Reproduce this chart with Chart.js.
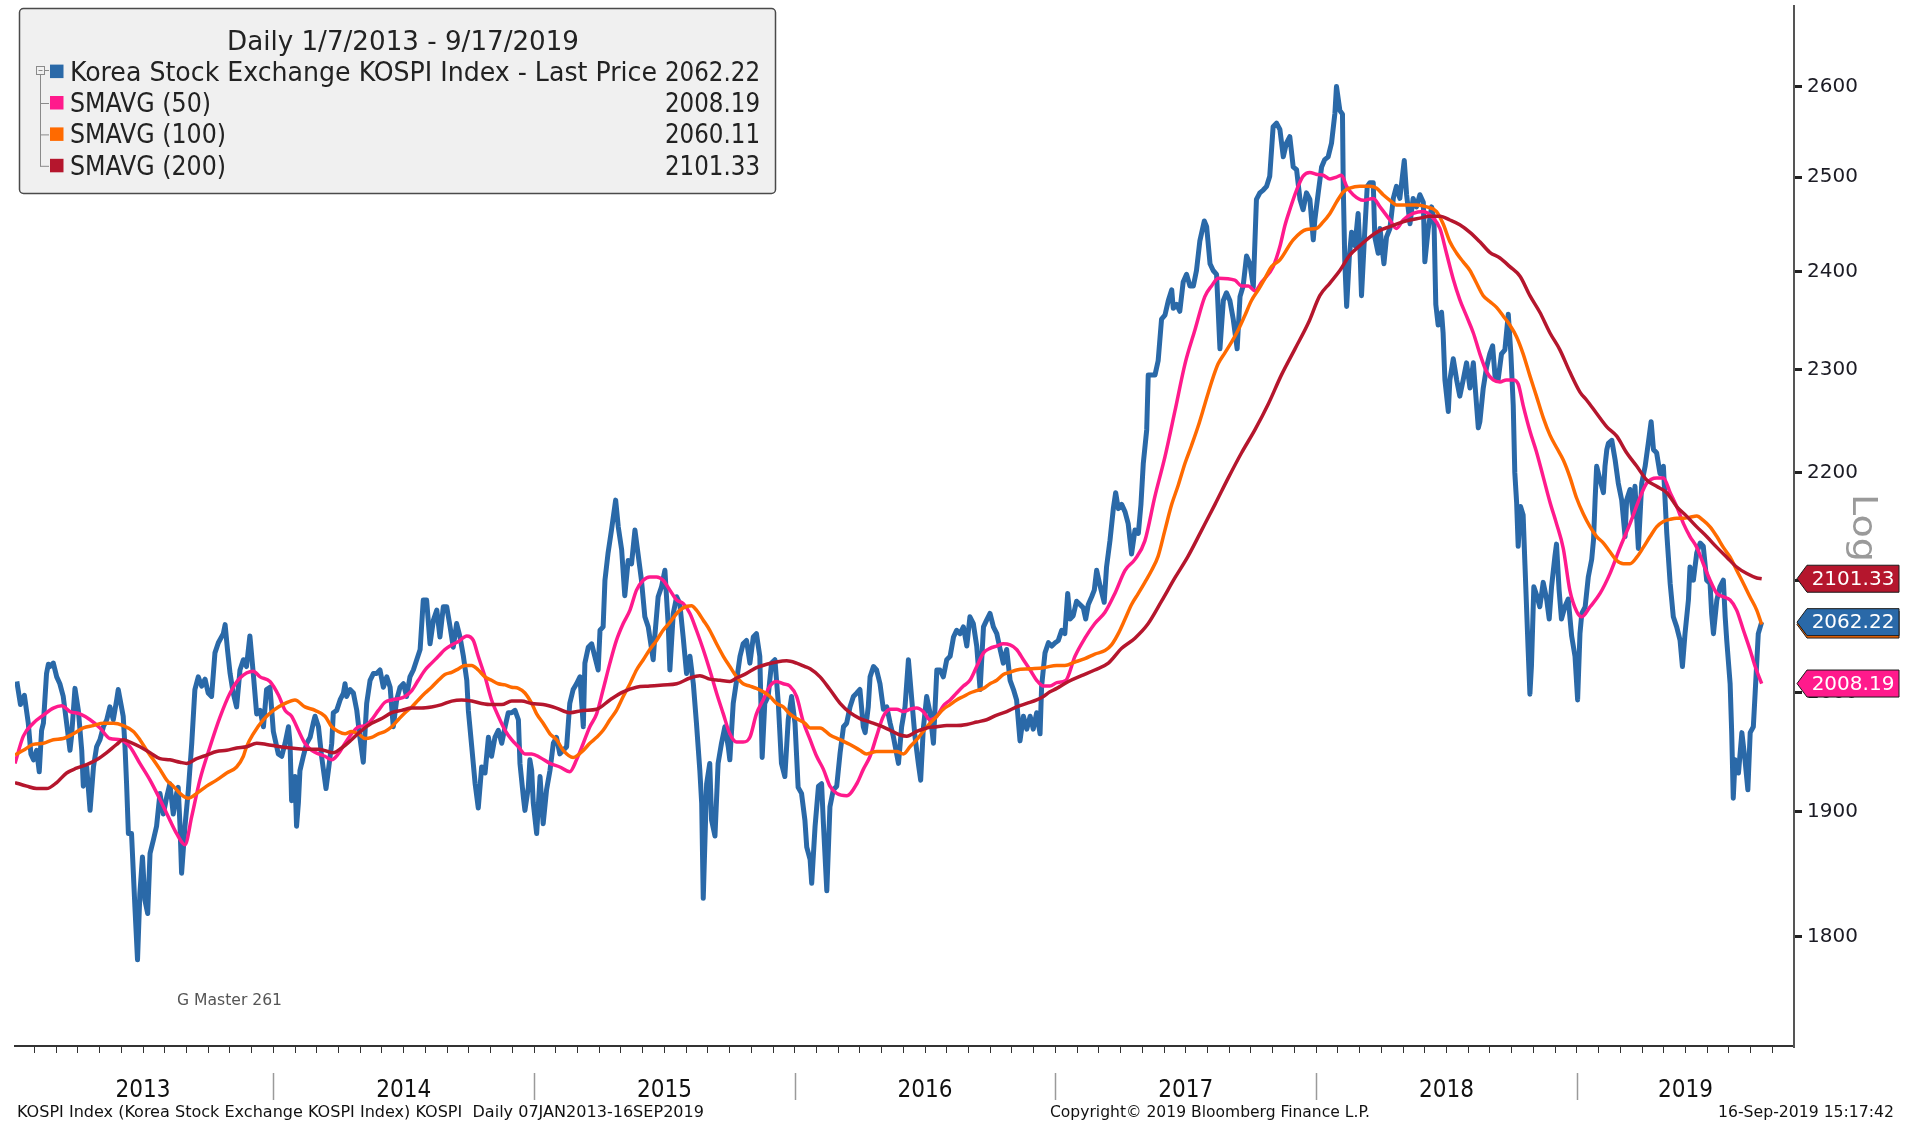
<!DOCTYPE html>
<html>
<head>
<meta charset="utf-8">
<script src="https://cdn.jsdelivr.net/npm/chart.js@4.4.0/dist/chart.umd.min.js"></script>
<style>
  html, body { margin: 0; padding: 0; background: #fff; }
  #wrap { width: 1914px; height: 1124px; position: relative; }
</style>
</head>
<body>
<div id="wrap"><canvas id="grafico"></canvas></div>
<script>
// KOSPI last price, [decimal year, value]
const price2013 = [[2013.016,2010],[2013.030,1990],[2013.045,1998],[2013.060,1974],[2013.070,1948],[2013.080,1943],[2013.092,1951],[2013.102,1933],[2013.111,1968],[2013.118,1974],[2013.130,2017],[2013.137,2025],[2013.143,2023],[2013.156,2026],[2013.169,2014],[2013.181,2008],[2013.194,1997],[2013.207,1974],[2013.220,1951],[2013.226,1963],[2013.239,2004],[2013.252,1985],[2013.265,1951],[2013.271,1921],[2013.284,1937],[2013.297,1901],[2013.310,1937],[2013.322,1954],[2013.335,1960],[2013.348,1971],[2013.361,1977],[2013.373,1988],[2013.386,1977],[2013.399,1994],[2013.405,2003],[2013.424,1980],[2013.431,1954],[2013.437,1923],[2013.444,1882],[2013.456,1882],[2013.469,1823],[2013.479,1782],[2013.488,1834],[2013.498,1863],[2013.507,1829],[2013.518,1818],[2013.527,1866],[2013.540,1877],[2013.552,1888],[2013.565,1915],[2013.578,1898],[2013.591,1912],[2013.603,1923],[2013.616,1898],[2013.629,1915],[2013.635,1920],[2013.642,1888],[2013.648,1850],[2013.661,1888],[2013.674,1918],[2013.687,1957],[2013.699,2003],[2013.712,2014],[2013.725,2006],[2013.738,2012],[2013.750,2000],[2013.763,1997],[2013.776,2035],[2013.789,2044],[2013.808,2052],[2013.815,2060],[2013.824,2038],[2013.834,2017],[2013.846,2000],[2013.859,1988],[2013.872,2020],[2013.885,2029],[2013.897,2023],[2013.910,2050],[2013.923,2017],[2013.936,1982],[2013.949,1985],[2013.962,1971],[2013.974,2003],[2013.987,2005],[2014.000,1967]];
const price2014 = [[2014.019,1948],[2014.032,1946],[2014.045,1957],[2014.058,1971],[2014.064,1957],[2014.070,1909],[2014.083,1929],[2014.089,1888],[2014.096,1907],[2014.102,1934],[2014.115,1946],[2014.128,1957],[2014.141,1962],[2014.153,1974],[2014.160,1980],[2014.173,1971],[2014.185,1946],[2014.202,1919],[2014.211,1934],[2014.224,1957],[2014.230,1983],[2014.243,1985],[2014.256,1994],[2014.269,2000],[2014.275,2008],[2014.281,1997],[2014.294,2003],[2014.307,2000],[2014.320,1985],[2014.332,1962],[2014.345,1941],[2014.358,1991],[2014.371,2011],[2014.384,2017],[2014.396,2017],[2014.409,2020],[2014.422,2005],[2014.435,2014],[2014.448,2005],[2014.460,1971],[2014.473,1994],[2014.486,2005],[2014.499,2008],[2014.511,1997],[2014.524,2014],[2014.537,2020],[2014.550,2029],[2014.563,2038],[2014.575,2082],[2014.588,2082],[2014.601,2043],[2014.614,2064],[2014.627,2073],[2014.639,2049],[2014.652,2076],[2014.665,2076],[2014.678,2058],[2014.690,2040],[2014.703,2061],[2014.716,2049],[2014.729,2032],[2014.742,2011],[2014.748,1985],[2014.761,1954],[2014.774,1923],[2014.786,1903],[2014.799,1937],[2014.812,1932],[2014.825,1962],[2014.837,1946],[2014.850,1962],[2014.863,1968],[2014.876,1957],[2014.889,1971],[2014.901,1983],[2014.914,1983],[2014.927,1985],[2014.940,1977],[2014.946,1940],[2014.959,1912],[2014.965,1901],[2014.978,1920],[2014.984,1943],[2014.991,1934],[2014.997,1907]];
const price2015 = [[2015.010,1882],[2015.023,1929],[2015.035,1890],[2015.048,1918],[2015.061,1934],[2015.074,1957],[2015.086,1962],[2015.099,1948],[2015.112,1951],[2015.125,1954],[2015.137,1991],[2015.150,2003],[2015.163,2008],[2015.176,2014],[2015.189,1971],[2015.195,2026],[2015.208,2040],[2015.221,2043],[2015.233,2032],[2015.246,2020],[2015.253,2055],[2015.265,2058],[2015.272,2100],[2015.284,2125],[2015.297,2146],[2015.313,2174],[2015.323,2149],[2015.336,2128],[2015.348,2086],[2015.361,2118],[2015.374,2115],[2015.387,2146],[2015.400,2122],[2015.412,2100],[2015.425,2067],[2015.438,2058],[2015.457,2029],[2015.463,2049],[2015.476,2085],[2015.489,2094],[2015.502,2109],[2015.515,2058],[2015.521,2020],[2015.534,2070],[2015.547,2085],[2015.559,2079],[2015.572,2049],[2015.585,2017],[2015.598,2032],[2015.611,2008],[2015.623,1974],[2015.636,1934],[2015.643,1907],[2015.649,1830],[2015.662,1923],[2015.674,1940],[2015.681,1893],[2015.694,1880],[2015.706,1940],[2015.719,1957],[2015.732,1971],[2015.745,1954],[2015.751,1943],[2015.764,1991],[2015.777,2011],[2015.790,2032],[2015.802,2043],[2015.815,2046],[2015.828,2026],[2015.841,2049],[2015.853,2052],[2015.866,2032],[2015.875,1945],[2015.885,1991],[2015.898,1997],[2015.911,2026],[2015.924,2029],[2015.937,1991],[2015.949,1940],[2015.962,1929],[2015.975,1977],[2015.988,1997]];
const price2016 = [[2016.001,1974],[2016.013,1920],[2016.026,1915],[2016.039,1893],[2016.046,1871],[2016.059,1861],[2016.065,1842],[2016.078,1888],[2016.091,1921],[2016.103,1923],[2016.110,1890],[2016.123,1836],[2016.135,1904],[2016.148,1918],[2016.161,1921],[2016.174,1949],[2016.187,1971],[2016.199,1974],[2016.212,1988],[2016.225,1997],[2016.238,2000],[2016.250,2003],[2016.263,1971],[2016.270,1966],[2016.282,1988],[2016.289,2014],[2016.302,2023],[2016.314,2020],[2016.327,2008],[2016.340,1986],[2016.353,1988],[2016.366,1974],[2016.378,1963],[2016.398,1940],[2016.410,1971],[2016.423,1988],[2016.436,2029],[2016.449,1994],[2016.461,1963],[2016.474,1940],[2016.483,1926],[2016.493,1969],[2016.506,1997],[2016.519,1983],[2016.532,1957],[2016.545,2020],[2016.557,2020],[2016.570,2014],[2016.583,2029],[2016.596,2032],[2016.609,2049],[2016.621,2055],[2016.634,2052],[2016.647,2058],[2016.660,2041],[2016.672,2067],[2016.685,2061],[2016.698,2041],[2016.711,2003],[2016.724,2058],[2016.736,2064],[2016.749,2070],[2016.762,2058],[2016.775,2052],[2016.788,2038],[2016.800,2026],[2016.813,2038],[2016.826,2011],[2016.839,2003],[2016.851,1994],[2016.864,1959],[2016.877,1980],[2016.890,1969],[2016.903,1980],[2016.915,1969],[2016.928,1983],[2016.941,1965],[2016.947,2006],[2016.960,2035],[2016.973,2044],[2016.986,2041],[2016.999,2044]];
const price2017 = [[2017.011,2046],[2017.024,2055],[2017.036,2052],[2017.047,2088],[2017.056,2065],[2017.068,2068],[2017.081,2081],[2017.094,2078],[2017.107,2075],[2017.116,2065],[2017.126,2078],[2017.139,2085],[2017.149,2091],[2017.158,2109],[2017.171,2095],[2017.187,2080],[2017.196,2112],[2017.209,2136],[2017.222,2166],[2017.231,2181],[2017.241,2166],[2017.254,2170],[2017.267,2163],[2017.279,2152],[2017.292,2124],[2017.305,2146],[2017.318,2143],[2017.328,2170],[2017.337,2209],[2017.350,2241],[2017.356,2295],[2017.369,2295],[2017.382,2295],[2017.394,2309],[2017.407,2351],[2017.420,2355],[2017.433,2370],[2017.446,2381],[2017.452,2362],[2017.465,2366],[2017.477,2359],[2017.490,2389],[2017.503,2397],[2017.516,2385],[2017.529,2385],[2017.541,2401],[2017.554,2432],[2017.571,2453],[2017.580,2447],[2017.593,2408],[2017.605,2401],[2017.618,2397],[2017.631,2321],[2017.644,2370],[2017.656,2378],[2017.669,2370],[2017.682,2351],[2017.697,2321],[2017.708,2374],[2017.720,2385],[2017.733,2416],[2017.746,2408],[2017.759,2384],[2017.771,2476],[2017.784,2483],[2017.797,2486],[2017.810,2490],[2017.822,2501],[2017.835,2555],[2017.848,2559],[2017.861,2552],[2017.874,2522],[2017.886,2537],[2017.899,2544],[2017.912,2511],[2017.925,2508],[2017.938,2476],[2017.950,2465],[2017.963,2483],[2017.976,2476],[2017.989,2433],[2017.995,2454]];
const price2018 = [[2018.008,2483],[2018.021,2511],[2018.033,2519],[2018.046,2522],[2018.059,2537],[2018.072,2570],[2018.078,2600],[2018.091,2573],[2018.101,2569],[2018.104,2490],[2018.110,2410],[2018.117,2364],[2018.127,2414],[2018.136,2441],[2018.149,2427],[2018.161,2461],[2018.168,2423],[2018.174,2375],[2018.187,2445],[2018.196,2490],[2018.206,2494],[2018.219,2494],[2018.225,2436],[2018.238,2419],[2018.245,2445],[2018.260,2408],[2018.270,2436],[2018.283,2445],[2018.296,2477],[2018.308,2490],[2018.321,2477],[2018.338,2518],[2018.347,2481],[2018.360,2450],[2018.372,2477],[2018.385,2468],[2018.398,2481],[2018.411,2473],[2018.417,2410],[2018.430,2445],[2018.443,2468],[2018.452,2454],[2018.459,2366],[2018.468,2345],[2018.481,2358],[2018.487,2337],[2018.494,2290],[2018.507,2259],[2018.513,2290],[2018.526,2311],[2018.539,2290],[2018.551,2274],[2018.564,2290],[2018.577,2307],[2018.590,2282],[2018.603,2307],[2018.622,2243],[2018.628,2249],[2018.641,2282],[2018.654,2303],[2018.666,2316],[2018.677,2324],[2018.686,2294],[2018.698,2290],[2018.711,2316],[2018.724,2320],[2018.737,2356],[2018.747,2316],[2018.756,2265],[2018.762,2200],[2018.769,2172],[2018.775,2131],[2018.784,2168],[2018.794,2160],[2018.801,2114],[2018.807,2076],[2018.813,2039],[2018.820,1999],[2018.826,2024],[2018.835,2094],[2018.845,2087],[2018.858,2076],[2018.871,2098],[2018.884,2083],[2018.894,2065],[2018.903,2094],[2018.916,2122],[2018.922,2133],[2018.932,2091],[2018.941,2065],[2018.954,2076],[2018.967,2083],[2018.980,2050],[2018.993,2032]];
const price2019 = [[2019.003,1994],[2019.012,2052],[2019.019,2070],[2019.032,2076],[2019.044,2103],[2019.057,2119],[2019.064,2137],[2019.070,2174],[2019.076,2206],[2019.089,2193],[2019.102,2181],[2019.108,2206],[2019.115,2222],[2019.121,2228],[2019.134,2231],[2019.147,2212],[2019.159,2190],[2019.172,2174],[2019.185,2140],[2019.191,2174],[2019.204,2184],[2019.217,2159],[2019.223,2187],[2019.236,2129],[2019.249,2190],[2019.262,2206],[2019.274,2228],[2019.285,2249],[2019.294,2222],[2019.306,2219],[2019.319,2199],[2019.332,2206],[2019.345,2143],[2019.358,2097],[2019.364,2082],[2019.370,2067],[2019.383,2058],[2019.396,2046],[2019.405,2023],[2019.415,2052],[2019.428,2082],[2019.434,2112],[2019.447,2100],[2019.460,2125],[2019.473,2134],[2019.485,2131],[2019.498,2100],[2019.511,2097],[2019.517,2070],[2019.524,2052],[2019.537,2082],[2019.549,2094],[2019.562,2100],[2019.569,2067],[2019.575,2046],[2019.588,2008],[2019.594,1966],[2019.600,1911],[2019.607,1943],[2019.620,1932],[2019.633,1966],[2019.645,1943],[2019.656,1918],[2019.665,1966],[2019.677,1971],[2019.684,2000],[2019.696,2052],[2019.709,2062.22]];

// moving averages, [decimal year, value]
const sma50 = [[2013.009,1940],[2013.041,1963],[2013.079,1974],[2013.118,1981],[2013.156,1987],[2013.188,1989],[2013.220,1984],[2013.258,1982],[2013.297,1977],[2013.335,1970],[2013.373,1961],[2013.412,1960],[2013.450,1954],[2013.488,1940],[2013.527,1926],[2013.565,1910],[2013.603,1893],[2013.629,1882],[2013.661,1873],[2013.687,1896],[2013.718,1926],[2013.757,1954],[2013.795,1979],[2013.834,2000],[2013.872,2013],[2013.923,2019],[2013.949,2014],[2013.987,2010],[2014.020,1998],[2014.045,1985],[2014.070,1980],[2014.096,1968],[2014.121,1957],[2014.147,1951],[2014.173,1948],[2014.198,1946],[2014.224,1943],[2014.249,1948],[2014.275,1957],[2014.300,1965],[2014.326,1971],[2014.352,1972],[2014.377,1977],[2014.403,1985],[2014.428,1992],[2014.454,1994],[2014.479,1995],[2014.505,1997],[2014.531,2002],[2014.556,2011],[2014.582,2020],[2014.607,2026],[2014.633,2032],[2014.658,2038],[2014.684,2042],[2014.710,2045],[2014.742,2050],[2014.767,2046],[2014.786,2032],[2014.812,2014],[2014.837,1994],[2014.863,1980],[2014.889,1968],[2014.914,1960],[2014.940,1954],[2014.965,1948],[2014.991,1948],[2015.023,1945],[2015.061,1940],[2015.099,1937],[2015.137,1933],[2015.163,1943],[2015.189,1957],[2015.214,1971],[2015.240,1982],[2015.265,2003],[2015.291,2026],[2015.316,2046],[2015.342,2061],[2015.368,2073],[2015.393,2091],[2015.419,2100],[2015.444,2103],[2015.470,2103],[2015.495,2100],[2015.521,2091],[2015.547,2082],[2015.572,2079],[2015.598,2070],[2015.623,2055],[2015.649,2038],[2015.674,2020],[2015.700,2000],[2015.726,1982],[2015.751,1965],[2015.777,1958],[2015.802,1958],[2015.828,1962],[2015.853,1982],[2015.879,1994],[2015.905,2006],[2015.930,2010],[2015.956,2008],[2015.981,2006],[2016.007,1997],[2016.033,1975],[2016.059,1960],[2016.084,1946],[2016.110,1935],[2016.135,1921],[2016.161,1915],[2016.199,1913],[2016.238,1923],[2016.263,1935],[2016.289,1946],[2016.314,1963],[2016.340,1980],[2016.366,1986],[2016.391,1986],[2016.417,1984],[2016.442,1986],[2016.468,1987],[2016.493,1984],[2016.519,1977],[2016.545,1980],[2016.570,1989],[2016.596,1994],[2016.621,2000],[2016.647,2006],[2016.672,2011],[2016.698,2023],[2016.724,2035],[2016.749,2039],[2016.775,2041],[2016.800,2043],[2016.826,2042],[2016.851,2038],[2016.877,2029],[2016.903,2020],[2016.928,2011],[2016.954,2006],[2016.979,2006],[2017.005,2009],[2017.040,2011],[2017.075,2032],[2017.113,2048],[2017.151,2061],[2017.190,2071],[2017.228,2088],[2017.267,2109],[2017.305,2119],[2017.343,2136],[2017.382,2178],[2017.420,2215],[2017.458,2259],[2017.497,2306],[2017.535,2340],[2017.573,2374],[2017.599,2385],[2017.625,2393],[2017.688,2391],[2017.714,2385],[2017.740,2385],[2017.765,2380],[2017.791,2389],[2017.835,2405],[2017.861,2426],[2017.880,2448],[2017.899,2465],[2017.925,2486],[2017.950,2501],[2017.976,2505],[2018.000,2503],[2018.027,2502],[2018.053,2498],[2018.078,2500],[2018.097,2502],[2018.117,2490],[2018.142,2481],[2018.181,2475],[2018.219,2477],[2018.245,2468],[2018.283,2454],[2018.308,2445],[2018.334,2454],[2018.372,2461],[2018.411,2463],[2018.449,2456],[2018.475,2445],[2018.500,2419],[2018.526,2392],[2018.551,2371],[2018.577,2354],[2018.603,2337],[2018.628,2316],[2018.654,2298],[2018.679,2290],[2018.705,2288],[2018.730,2290],[2018.756,2290],[2018.775,2286],[2018.794,2265],[2018.820,2240],[2018.845,2220],[2018.871,2196],[2018.897,2172],[2018.922,2152],[2018.948,2129],[2018.973,2091],[2018.999,2072],[2019.019,2067],[2019.051,2076],[2019.089,2088],[2019.127,2106],[2019.166,2130],[2019.204,2152],[2019.243,2177],[2019.268,2190],[2019.306,2195],[2019.332,2195],[2019.358,2181],[2019.383,2168],[2019.409,2152],[2019.434,2140],[2019.460,2130],[2019.485,2115],[2019.511,2100],[2019.537,2088],[2019.562,2085],[2019.588,2082],[2019.613,2073],[2019.639,2055],[2019.664,2038],[2019.684,2023],[2019.709,2008.19]];
const sma100 = [[2013.009,1947],[2013.041,1951],[2013.079,1956],[2013.118,1957],[2013.156,1960],[2013.194,1961],[2013.233,1965],[2013.271,1970],[2013.309,1972],[2013.348,1974],[2013.386,1974],[2013.424,1972],[2013.463,1967],[2013.488,1960],[2013.514,1951],[2013.540,1943],[2013.565,1935],[2013.591,1926],[2013.616,1921],[2013.642,1915],[2013.674,1911],[2013.706,1915],[2013.744,1921],[2013.782,1926],[2013.821,1932],[2013.859,1937],[2013.885,1946],[2013.897,1954],[2013.923,1965],[2013.962,1977],[2014.000,1985],[2014.045,1991],[2014.083,1994],[2014.121,1988],[2014.160,1985],[2014.198,1980],[2014.224,1971],[2014.249,1967],[2014.275,1965],[2014.300,1967],[2014.326,1965],[2014.352,1961],[2014.377,1962],[2014.403,1965],[2014.428,1967],[2014.454,1971],[2014.479,1977],[2014.505,1983],[2014.531,1988],[2014.556,1994],[2014.582,2000],[2014.607,2005],[2014.633,2011],[2014.658,2016],[2014.684,2018],[2014.710,2021],[2014.735,2024],[2014.761,2024],[2014.786,2020],[2014.812,2014],[2014.837,2011],[2014.863,2008],[2014.889,2007],[2014.914,2005],[2014.940,2004],[2014.965,2000],[2014.991,1991],[2015.010,1982],[2015.035,1974],[2015.061,1965],[2015.086,1960],[2015.112,1951],[2015.150,1945],[2015.189,1951],[2015.214,1957],[2015.240,1962],[2015.265,1968],[2015.291,1977],[2015.316,1985],[2015.342,1997],[2015.368,2008],[2015.393,2020],[2015.419,2029],[2015.444,2038],[2015.470,2046],[2015.495,2055],[2015.521,2062],[2015.547,2070],[2015.572,2075],[2015.604,2077],[2015.623,2073],[2015.649,2064],[2015.674,2055],[2015.700,2043],[2015.726,2032],[2015.751,2023],[2015.777,2014],[2015.802,2008],[2015.828,2006],[2015.853,2004],[2015.879,2001],[2015.905,1997],[2015.930,1991],[2015.956,1988],[2015.981,1982],[2016.007,1978],[2016.039,1974],[2016.059,1970],[2016.097,1970],[2016.135,1964],[2016.174,1960],[2016.212,1956],[2016.250,1951],[2016.276,1948],[2016.314,1950],[2016.353,1950],[2016.391,1950],[2016.417,1948],[2016.442,1954],[2016.468,1960],[2016.493,1967],[2016.519,1974],[2016.545,1980],[2016.570,1986],[2016.596,1990],[2016.621,1994],[2016.647,1997],[2016.672,2000],[2016.698,2002],[2016.724,2004],[2016.749,2008],[2016.775,2011],[2016.800,2016],[2016.826,2018],[2016.851,2020],[2016.903,2021],[2016.954,2022],[2017.005,2024],[2017.036,2024],[2017.075,2027],[2017.113,2030],[2017.151,2034],[2017.190,2037],[2017.215,2042],[2017.241,2052],[2017.267,2065],[2017.292,2078],[2017.318,2088],[2017.343,2098],[2017.369,2109],[2017.394,2122],[2017.420,2146],[2017.446,2170],[2017.471,2188],[2017.497,2209],[2017.522,2226],[2017.548,2245],[2017.573,2266],[2017.599,2288],[2017.624,2306],[2017.650,2317],[2017.676,2328],[2017.701,2340],[2017.727,2355],[2017.752,2370],[2017.778,2381],[2017.804,2393],[2017.829,2405],[2017.861,2412],[2017.912,2433],[2017.963,2444],[2018.000,2445],[2018.027,2452],[2018.053,2461],[2018.078,2473],[2018.104,2484],[2018.129,2488],[2018.168,2490],[2018.206,2490],[2018.232,2488],[2018.257,2481],[2018.283,2475],[2018.308,2470],[2018.347,2470],[2018.385,2470],[2018.424,2468],[2018.462,2463],[2018.487,2450],[2018.513,2431],[2018.539,2419],[2018.564,2410],[2018.590,2401],[2018.615,2388],[2018.641,2375],[2018.666,2369],[2018.692,2363],[2018.718,2354],[2018.743,2345],[2018.769,2333],[2018.794,2316],[2018.820,2294],[2018.845,2274],[2018.871,2253],[2018.897,2236],[2018.922,2224],[2018.948,2212],[2018.973,2196],[2018.999,2176],[2019.025,2161],[2019.051,2149],[2019.076,2140],[2019.102,2134],[2019.127,2126],[2019.153,2118],[2019.179,2115],[2019.204,2115],[2019.230,2121],[2019.255,2130],[2019.281,2140],[2019.306,2149],[2019.332,2154],[2019.358,2156],[2019.383,2157],[2019.409,2157],[2019.434,2158],[2019.460,2159],[2019.485,2155],[2019.511,2149],[2019.537,2140],[2019.562,2130],[2019.588,2121],[2019.613,2109],[2019.639,2097],[2019.664,2085],[2019.690,2073],[2019.709,2060.11]];
const sma200 = [[2013.009,1924],[2013.054,1921],[2013.092,1919],[2013.130,1919],[2013.169,1924],[2013.207,1932],[2013.245,1936],[2013.284,1939],[2013.322,1943],[2013.361,1949],[2013.399,1956],[2013.424,1960],[2013.450,1958],[2013.488,1954],[2013.527,1949],[2013.565,1944],[2013.603,1943],[2013.642,1941],[2013.667,1940],[2013.706,1944],[2013.744,1947],[2013.782,1950],[2013.821,1951],[2013.859,1953],[2013.897,1954],[2013.936,1957],[2013.974,1956],[2014.026,1954],[2014.070,1953],[2014.121,1952],[2014.173,1952],[2014.230,1949],[2014.262,1953],[2014.300,1960],[2014.339,1968],[2014.377,1974],[2014.416,1978],[2014.454,1983],[2014.492,1985],[2014.531,1987],[2014.569,1987],[2014.607,1988],[2014.646,1990],[2014.684,1993],[2014.722,1994],[2014.761,1993],[2014.799,1991],[2014.837,1990],[2014.876,1990],[2014.914,1993],[2014.952,1993],[2014.991,1991],[2015.035,1990],[2015.086,1987],[2015.137,1983],[2015.189,1985],[2015.240,1986],[2015.291,1994],[2015.342,2001],[2015.393,2005],[2015.444,2006],[2015.495,2007],[2015.547,2008],[2015.598,2013],[2015.636,2015],[2015.674,2012],[2015.713,2011],[2015.751,2010],[2015.777,2013],[2015.815,2017],[2015.853,2022],[2015.892,2025],[2015.930,2027],[2015.969,2028],[2016.007,2026],[2016.039,2023],[2016.059,2021],[2016.097,2014],[2016.135,2003],[2016.174,1991],[2016.212,1983],[2016.250,1978],[2016.289,1975],[2016.327,1972],[2016.366,1968],[2016.404,1964],[2016.430,1963],[2016.468,1967],[2016.506,1970],[2016.545,1971],[2016.583,1972],[2016.621,1972],[2016.660,1973],[2016.698,1975],[2016.736,1977],[2016.775,1981],[2016.813,1984],[2016.851,1988],[2016.890,1991],[2016.928,1994],[2016.954,1997],[2016.979,2001],[2017.005,2004],[2017.050,2010],[2017.100,2015],[2017.151,2020],[2017.203,2026],[2017.254,2039],[2017.305,2048],[2017.356,2061],[2017.407,2081],[2017.458,2102],[2017.509,2122],[2017.561,2146],[2017.612,2170],[2017.663,2195],[2017.714,2219],[2017.765,2241],[2017.816,2266],[2017.867,2295],[2017.919,2321],[2017.970,2347],[2018.014,2375],[2018.053,2388],[2018.091,2401],[2018.129,2417],[2018.168,2427],[2018.206,2436],[2018.245,2443],[2018.283,2447],[2018.321,2451],[2018.360,2454],[2018.398,2456],[2018.436,2458],[2018.475,2458],[2018.513,2454],[2018.551,2449],[2018.590,2441],[2018.628,2431],[2018.666,2420],[2018.705,2414],[2018.743,2405],[2018.782,2395],[2018.820,2375],[2018.858,2358],[2018.897,2337],[2018.935,2320],[2018.973,2298],[2019.012,2278],[2019.038,2270],[2019.076,2257],[2019.115,2244],[2019.153,2235],[2019.191,2219],[2019.230,2206],[2019.268,2193],[2019.306,2187],[2019.345,2181],[2019.383,2168],[2019.421,2159],[2019.460,2149],[2019.498,2140],[2019.537,2130],[2019.575,2121],[2019.613,2112],[2019.652,2106],[2019.690,2102],[2019.709,2101.33]];

const yTicks = [1800, 1900, 2000, 2100, 2200, 2300, 2400, 2500, 2600];
const yearLabels = ['2013', '2014', '2015', '2016', '2017', '2018', '2019'];
const legendTitle = 'Daily 1/7/2013 - 9/17/2019';
const legendLabels = ['Korea Stock Exchange KOSPI Index - Last Price', 'SMAVG (50)', 'SMAVG (100)', 'SMAVG (200)'];
const legendValues = ['2062.22', '2008.19', '2060.11', '2101.33'];
const colors = ['#2a69a8', '#ff1a8c', '#ff6a00', '#b5162d'];

const X_MIN = 2013.009, X_MAX = 2019.833;
const Y_MIN = 1716.8, Y_MAX = 2692;

const lastPrice = [].concat(price2013, price2014, price2015, price2016, price2017, price2018, price2019);
const toPts = arr => arr.map(p => ({ x: p[0], y: p[1] }));

// draw text squeezed/stretched to a given width (stands in for the condensed font)
function fitText(ctx, text, x, y, w, font, color, align, baseline) {
    ctx.save();
    ctx.font = font;
    ctx.fillStyle = color;
    ctx.textAlign = align || 'left';
    ctx.textBaseline = baseline || 'alphabetic';
    const m = ctx.measureText(text).width;
    ctx.translate(x, y);
    ctx.scale(w / m, 1);
    ctx.fillText(text, 0, 0);
    ctx.restore();
}

const narrow = '"DejaVu Sans Condensed", "Liberation Sans Narrow", "Liberation Sans", sans-serif';

const decor = {
    id: 'decor',
    afterDraw(chart) {
        const ctx = chart.ctx;
        const xs = chart.scales.x;
        const ys = chart.scales.y;

        // year separators and labels under the axis
        ctx.save();
        ctx.strokeStyle = '#9a9a9a';
        ctx.lineWidth = 1.5;
        for (let i = 1; i < yearLabels.length; i++) {
            const px = Math.round(xs.getPixelForValue(2013 + i)) + 0.5;
            ctx.beginPath();
            ctx.moveTo(px, 1073);
            ctx.lineTo(px, 1100);
            ctx.stroke();
        }
        ctx.restore();
        yearLabels.forEach((lab, i) => {
            const a = 2013 + i, b = Math.min(a + 1, X_MAX);
            const cx = xs.getPixelForValue((a + b) / 2);
            fitText(ctx, lab, cx, 1097, 55, '24px ' + narrow, '#111', 'center');
        });

        // footer
        fitText(ctx, 'KOSPI Index (Korea Stock Exchange KOSPI Index) KOSPI  Daily 07JAN2013-16SEP2019', 17, 1117, 687, '15px ' + narrow, '#111');
        fitText(ctx, 'Copyright\u00a9 2019 Bloomberg Finance L.P.', 1050, 1117, 320, '15px ' + narrow, '#111');
        fitText(ctx, '16-Sep-2019 15:17:42', 1718, 1117, 176, '15px ' + narrow, '#111');
        fitText(ctx, 'G Master 261', 177, 1005, 105, '15px ' + narrow, '#555');

        // "Log" marker
        ctx.save();
        ctx.translate(1862, 528);
        ctx.rotate(Math.PI / 2);
        fitText(ctx, 'Log', 0, 0, 68, '34px "DejaVu Sans", sans-serif', '#9a9a9a', 'center', 'middle');
        ctx.restore();

        // last value tags on the right axis
        const tags = [
            { v: sma200[sma200.length - 1][1], c: colors[3] },
            { v: sma100[sma100.length - 1][1], c: colors[2] },
            { v: lastPrice[lastPrice.length - 1][1], c: colors[0] },
            { v: sma50[sma50.length - 1][1], c: colors[1] }
        ];
        tags.forEach(t => {
            const y = ys.getPixelForValue(t.v);
            ctx.save();
            ctx.beginPath();
            ctx.moveTo(1797, y);
            ctx.lineTo(1807, y - 13.5);
            ctx.lineTo(1899, y - 13.5);
            ctx.lineTo(1899, y + 13.5);
            ctx.lineTo(1807, y + 13.5);
            ctx.closePath();
            ctx.fillStyle = t.c;
            ctx.fill();
            ctx.strokeStyle = '#1a1a1a';
            ctx.lineWidth = 1;
            ctx.stroke();
            ctx.fillStyle = '#fff';
            ctx.font = '20px "DejaVu Sans", sans-serif';
            ctx.textAlign = 'center';
            ctx.textBaseline = 'middle';
            ctx.fillText(t.v.toFixed(2), 1853, y + 1);
            ctx.restore();
        });

        // legend box
        ctx.save();
        ctx.beginPath();
        ctx.roundRect(19.5, 8.5, 756, 185, 4);
        ctx.fillStyle = '#f0f0f0';
        ctx.fill();
        ctx.strokeStyle = '#4a4a4a';
        ctx.lineWidth = 1.5;
        ctx.stroke();
        ctx.restore();

        fitText(ctx, legendTitle, 403, 49.5, 352, '26px ' + narrow, '#222', 'center');

        const rowBase = [80.6, 112, 143.4, 174.8];
        // tree connector
        ctx.save();
        ctx.strokeStyle = '#8a8a8a';
        ctx.lineWidth = 1;
        ctx.strokeRect(36.5, 66.5, 8, 8);
        ctx.beginPath();
        ctx.moveTo(38.5, 70.5); ctx.lineTo(42.5, 70.5);
        ctx.moveTo(44.5, 70.5); ctx.lineTo(49, 70.5);
        ctx.moveTo(40.5, 74.5); ctx.lineTo(40.5, rowBase[3] - 8);
        for (let i = 1; i < 4; i++) {
            ctx.moveTo(40.5, rowBase[i] - 8.5);
            ctx.lineTo(49, rowBase[i] - 8.5);
        }
        ctx.stroke();
        ctx.restore();

        const labelW = [587, 141, 156, 156];
        legendLabels.forEach((lab, i) => {
            const b = rowBase[i];
            ctx.fillStyle = colors[i];
            ctx.fillRect(50, b - 16, 13.5, 13.5);
            fitText(ctx, lab, 70, b, labelW[i], '26px ' + narrow, '#222');
            fitText(ctx, legendValues[i], 760, b, 95, '26px ' + narrow, '#222', 'right');
        });
    }
};

const data = {
    datasets: [{
        label: legendLabels[0],
        data: toPts(lastPrice),
        borderColor: colors[0],
        borderWidth: 5,
        borderJoinStyle: 'round',
        pointRadius: 0,
        tension: 0,
        order: 3
    }, {
        label: legendLabels[1],
        data: toPts(sma50),
        borderColor: colors[1],
        borderWidth: 3.5,
        pointRadius: 0,
        cubicInterpolationMode: 'monotone',
        order: 2
    }, {
        label: legendLabels[2],
        data: toPts(sma100),
        borderColor: colors[2],
        borderWidth: 3.5,
        pointRadius: 0,
        cubicInterpolationMode: 'monotone',
        order: 1
    }, {
        label: legendLabels[3],
        data: toPts(sma200),
        borderColor: colors[3],
        borderWidth: 3.5,
        pointRadius: 0,
        cubicInterpolationMode: 'monotone',
        order: 0
    }]
};

const config = {
    type: 'line',
    data: data,
    options: {
        responsive: true,
        maintainAspectRatio: false,
        animation: false,
        devicePixelRatio: 1,
        layout: { padding: { left: 15, top: 6, right: 0, bottom: 0 } },
        plugins: {
            legend: { display: false },
            tooltip: { enabled: false }
        },
        scales: {
            x: {
                type: 'linear',
                position: 'bottom',
                min: X_MIN,
                max: X_MAX,
                afterBuildTicks: s => {
                    const t = [];
                    for (let y = 2013; y <= 2019; y++) {
                        for (let m = 0; m < 12; m++) {
                            const v = y + m / 12;
                            if (v >= X_MIN && v <= X_MAX) t.push({ value: v });
                        }
                    }
                    s.ticks = t;
                },
                afterFit: s => { s.height = 78; s.paddingLeft = 0; s.paddingRight = 0; },
                ticks: { display: false },
                grid: { drawOnChartArea: false, drawTicks: true, tickLength: 7, color: '#333', lineWidth: 1 },
                border: { display: true, color: '#333', width: 2 }
            },
            y: {
                type: 'logarithmic',
                position: 'right',
                min: Y_MIN,
                max: Y_MAX,
                afterBuildTicks: s => { s.ticks = yTicks.map(v => ({ value: v })); },
                afterFit: s => { s.width = 120; s.paddingTop = 0; s.paddingBottom = 0; },
                ticks: {
                    callback: v => String(v),
                    font: { family: '"DejaVu Sans", sans-serif', size: 20 },
                    color: '#1b1b24',
                    padding: 5
                },
                grid: { drawOnChartArea: false, drawTicks: true, tickLength: 8, color: '#222', lineWidth: 3 },
                border: { display: true, color: '#555', width: 2 }
            }
        }
    },
    plugins: [decor]
};

const grafico = new Chart(document.getElementById('grafico'), config);
</script>
</body>
</html>
